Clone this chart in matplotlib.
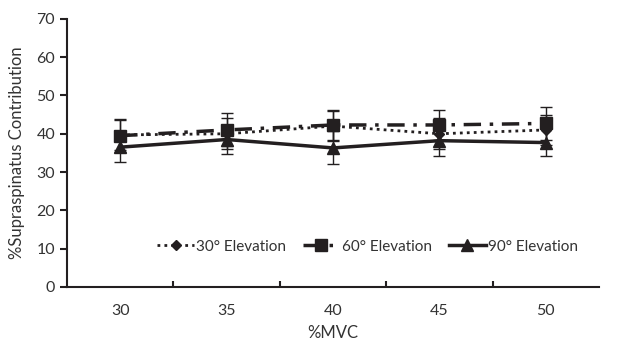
import matplotlib.pyplot as plt
import numpy as np

plt.rcParams['font.family'] = ['Lato', 'DejaVu Sans']

# %MVC categories
mvc_labels = ['30', '35', '40', '45', '50']

# mean supraspinatus contribution and SD per elevation
elev30 = [39.7, 40.0, 42.0, 40.0, 41.0]
elev30_err = [4.0, 4.0, 4.0, 4.0, 4.0]
elev60 = [39.5, 41.0, 42.3, 42.3, 42.7]
elev60_err = [4.3, 4.3, 4.0, 4.0, 4.3]
elev90 = [36.5, 38.5, 36.3, 38.2, 37.7]
elev90_err = [3.8, 3.8, 4.3, 4.0, 3.5]

x = np.arange(len(mvc_labels))

fig = plt.figure(figsize=(6.38, 3.44), dpi=100)
ax = fig.add_axes([0.105, 0.166, 0.834, 0.779])

col = '#231f20'
c30 = ax.errorbar(x, elev30, yerr=elev30_err, fmt='D', ls=(0, (1, 1.5)), lw=2, ms=5,
                  color=col, ecolor=col, elinewidth=1, capsize=4)
c60 = ax.errorbar(x, elev60, yerr=elev60_err, fmt='s', ls=(0, (5, 2.5, 1, 2.5)), lw=2.5, ms=8,
                  color=col, ecolor=col, elinewidth=1, capsize=4)
c90 = ax.errorbar(x, elev90, yerr=elev90_err, fmt='^', ls='-', lw=2.5, ms=8,
                  color=col, ecolor=col, elinewidth=1, capsize=4)

ax.set_xlim(-0.5, len(x) - 0.5)
ax.set_ylim(0, 70)
ax.set_yticks(range(0, 71, 10))
ax.set_xticks(x)
ax.set_xticklabels(mvc_labels)
ax.set_xticks(np.arange(0.5, len(x) - 1, 1), minor=True)
ax.tick_params(axis='x', which='major', length=0, pad=12, labelsize=11.5, colors='#333333')
ax.tick_params(axis='x', which='minor', direction='in', length=4, width=1.5, color=col)
ax.tick_params(axis='y', length=5, width=1.5, color=col, labelsize=11.5, labelcolor='#333333')

for s in ['top', 'right']:
    ax.spines[s].set_visible(False)
for s in ['left', 'bottom']:
    ax.spines[s].set_linewidth(1.5)
    ax.spines[s].set_color(col)

ax.set_xlabel('%MVC', fontsize=12, color='#333333', labelpad=5)
ax.set_ylabel('%Supraspinatus Contribution', fontsize=12, color='#333333', labelpad=8)

ax.legend([c30[0], c60[0], c90[0]], ['30° Elevation', '60° Elevation', '90° Elevation'],
          loc='center', bbox_to_anchor=(0.565, 0.15), ncol=3, frameon=False,
          fontsize=11, handlelength=2.4, columnspacing=1.1, handletextpad=0.15,
          labelcolor='#333333')

fig.savefig('out.png', dpi=100)
